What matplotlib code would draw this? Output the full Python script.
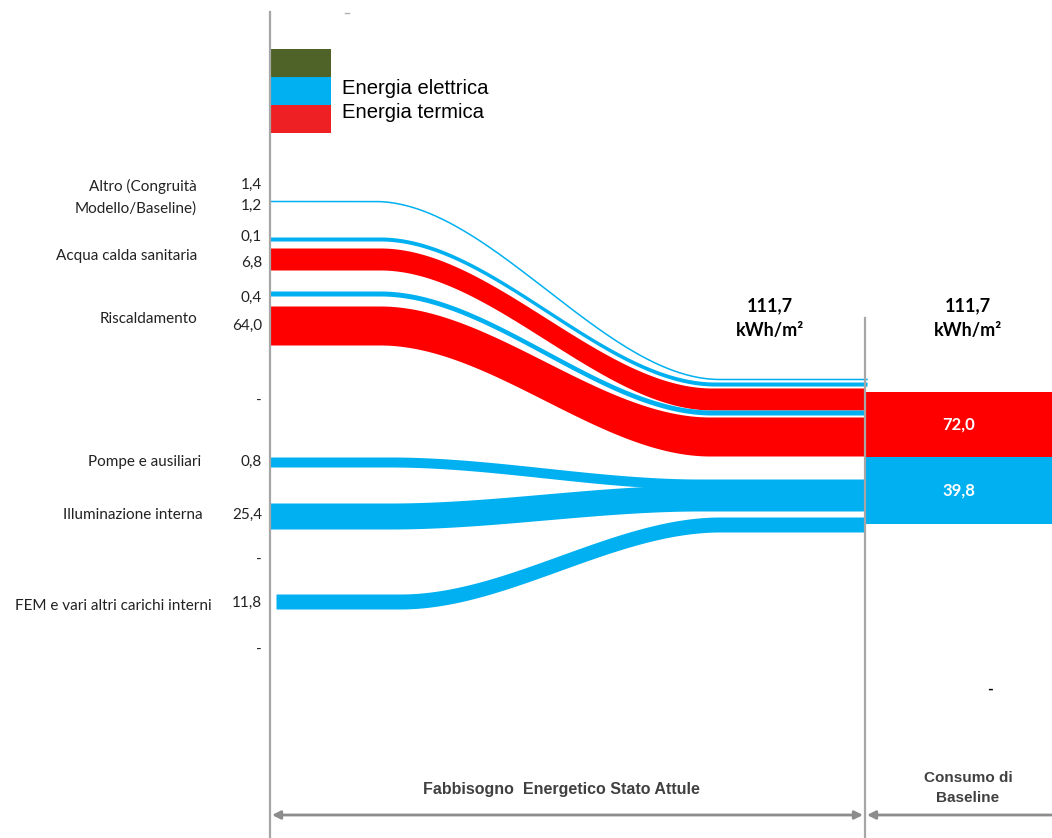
import numpy as np
import matplotlib.pyplot as plt
from matplotlib.patches import Rectangle

# Chart values
labels = ["Altro (Congruità\nModello/Baseline)", "Acqua calda sanitaria", "Riscaldamento",
          "Pompe e ausiliari", "Illuminazione interna", "FEM e vari altri carichi interni"]
value_labels = ["1,4", "1,2", "0,1", "6,8", "0,4", "64,0", "-", "0,8", "25,4", "-", "11,8", "-"]

flow_names = ["Altro", "ACS el", "ACS term", "Risc el", "Risc term", "Pompe", "Illum", "FEM"]
flow_values = [1.2, 0.1, 6.8, 0.4, 64.0, 0.8, 25.4, 11.8]
flow_types = ["el", "el", "term", "el", "term", "el", "el", "el"]

total_label = "111,7"
baseline_types = ["term", "el"]
baseline_values = [72.0, 39.8]

# Layout (pixel units of the figure)
W, H = 1052, 838
AX_L, AX_R = 270, 865
flow_left_top = [201.5, 237, 248, 291, 306, 457, 503, 594]
flow_right_top = [379.5, 382, 388, 410, 417, 479, 485, 517]
flow_thick = [1.5, 4, 22, 5, 39, 10, 26, 15]
flow_x_start = [270, 270, 270, 270, 270, 270, 270, 276]
flow_x_bend = [(375, 720), (380, 715), (380, 712), (380, 712), (380, 710),
               (390, 700), (390, 700), (400, 720)]
flow_x_end = [867, 867, 865, 865, 865, 865, 865, 865]
label_y = [197, 256, 319, 462, 515, 606]
label_x = [197, 197, 197, 201, 203, 212]
value_y = [185, 206, 237, 263, 298, 326, 401, 462, 515, 560, 603, 650]
block_tops = [392, 457]
block_h = [65, 67]

colors = {"el": "#00B0F0", "term": "#FF0000"}
font = ["Lato", "DejaVu Sans"]

fig = plt.figure(figsize=(W / 100, H / 100), dpi=100)
ax = fig.add_axes([0, 0, 1, 1])
ax.set_xlim(0, W)
ax.set_ylim(H, 0)
ax.axis("off")


def ease(x, x0, x1):
    t = np.clip((x - x0) / (x1 - x0), 0, 1)
    return t * t * (3 - 2 * t)


# flows
for i in range(len(flow_values)):
    x = np.linspace(flow_x_start[i], flow_x_end[i], 600)
    s = ease(x, *flow_x_bend[i])
    top = flow_left_top[i] + (flow_right_top[i] - flow_left_top[i]) * s
    c = colors[flow_types[i]]
    if flow_thick[i] < 2:
        ax.plot(x, top, color=c, lw=1.1, zorder=4)
    else:
        ax.fill_between(x, top, top + flow_thick[i], color=c, lw=0, zorder=3)

# axis lines
ax.plot([AX_L, AX_L], [12, H], color="#A6A6A6", lw=1.6, zorder=5)
ax.plot([AX_R, AX_R], [318, H], color="#A6A6A6", lw=1.6, zorder=5)
ax.plot([345, 349], [13, 13], color="#B0B0B0", lw=1)

# legend
ax.add_patch(Rectangle((AX_L, 49), 61, 28, color="#4F6228", lw=0))
ax.add_patch(Rectangle((AX_L, 77), 61, 28, color="#00B0F0", lw=0))
ax.add_patch(Rectangle((AX_L, 105), 61, 28, color="#EE2024", lw=0))
ax.text(342, 89, "Energia elettrica", fontsize=14.6, va="center", family=["Liberation Sans", "DejaVu Sans"])
ax.text(342, 113, "Energia termica", fontsize=14.6, va="center", family=["Liberation Sans", "DejaVu Sans"])

# category labels and values
for lab, lx, ly in zip(labels, label_x, label_y):
    ax.text(lx, ly, lab, ha="right", va="center", fontsize=11, family=font,
            color="#222222", linespacing=1.65)
for v, vy in zip(value_labels, value_y):
    ax.text(262, vy, v, ha="right", va="center", fontsize=11, family=font, color="#222222")
ax.text(990, 690, "-", ha="center", va="center", fontsize=11, family=font, fontweight="bold")

# baseline blocks
for t, v, y0, h in zip(baseline_types, baseline_values, block_tops, block_h):
    ax.add_patch(Rectangle((AX_R + 1, y0), W - AX_R, h, color=colors[t], lw=0, zorder=2))
    ax.text((AX_R + W) / 2, y0 + h / 2, f"{v:.1f}".replace(".", ","), ha="center", va="center",
            color="white", fontsize=12, fontweight="bold", family=font, zorder=3)

# totals
for cx in [770, 968]:
    ax.text(cx, 306, total_label, ha="center", va="center", fontsize=13, fontweight="bold", family=font)
    ax.text(cx, 330, "kWh/m²", ha="center", va="center", fontsize=13, fontweight="bold", family=font)

# bottom arrows and captions
narrow = ["Liberation Sans Narrow", "Liberation Sans", "DejaVu Sans"]
ax.annotate("", xy=(272, 815), xytext=(863, 815),
            arrowprops=dict(arrowstyle="<|-|>", color="#8C8C8C", lw=2, mutation_scale=12, shrinkA=0, shrinkB=0))
ax.annotate("", xy=(867, 815), xytext=(1060, 815), annotation_clip=False,
            arrowprops=dict(arrowstyle="-|>", color="#8C8C8C", lw=2, mutation_scale=12, shrinkA=0, shrinkB=0))
ax.text(561, 789, "Fabbisogno  Energetico Stato Attule", ha="center", va="center", fontsize=11.5,
        fontweight="bold", family=narrow, color="#404040")
ax.text(968, 788, "Consumo di\nBaseline", ha="center", va="center", fontsize=11,
        fontweight="bold", family=narrow, color="#404040", linespacing=1.5)

fig.savefig("out.png", dpi=100)
